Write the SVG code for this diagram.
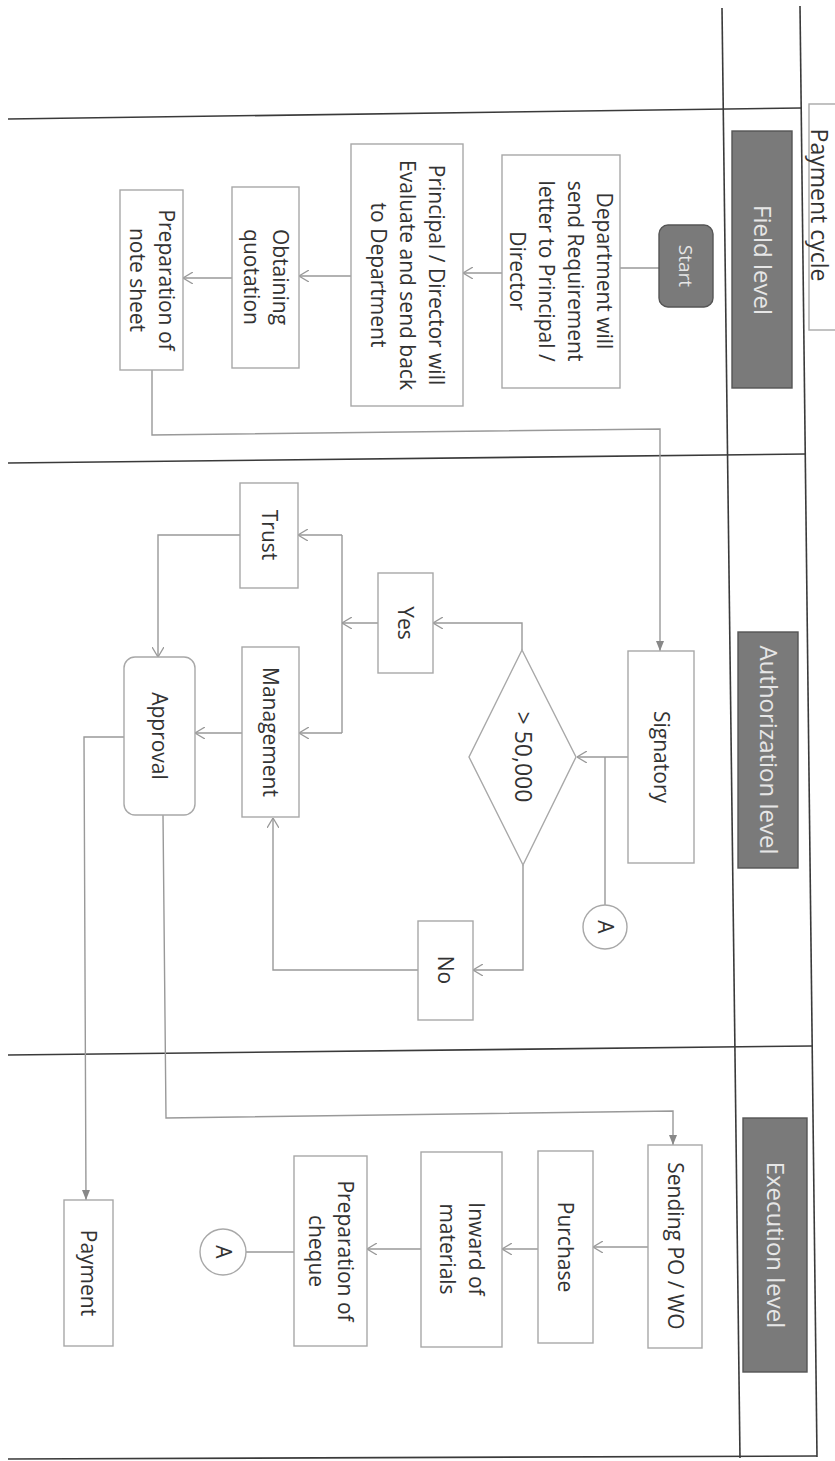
<svg xmlns="http://www.w3.org/2000/svg" width="835" height="1461" viewBox="0 0 835 1461">
<defs>
<style>
.bg{fill:#ffffff}
.frame{stroke:#3a3a3a;stroke-width:1.6;fill:none}
.box{fill:#ffffff;stroke:#a8a8a8;stroke-width:1.4}
.lane{fill:#7a7a7a;stroke:#555555;stroke-width:1.4}
.start{fill:#7a7a7a;stroke:#555555;stroke-width:1.4}
.t{font-family:"Open Sans","Noto Sans",sans-serif;font-size:21px;fill:#333333;text-anchor:middle}
.lt{font-family:"Open Sans","Noto Sans",sans-serif;font-size:24px;fill:#e6e6e6;text-anchor:middle}
.st{font-family:"Open Sans","Noto Sans",sans-serif;font-size:19px;fill:#e6e6e6;text-anchor:middle}
.pc{font-family:"Open Sans","Noto Sans",sans-serif;font-size:23px;fill:#333333;text-anchor:middle}
.c{fill:none;stroke:#999999;stroke-width:1.4}
.oa{marker-end:url(#oa)}
.fa{marker-end:url(#fa)}
</style>
<marker id="oa" viewBox="0 0 10 12" refX="10" refY="6" markerWidth="10" markerHeight="12" markerUnits="userSpaceOnUse" orient="auto">
<path d="M0,0 L10,6 L0,12" fill="none" stroke="#999999" stroke-width="1.3"/>
</marker>
<marker id="fa" viewBox="0 0 10 8" refX="10" refY="4" markerWidth="10" markerHeight="8" markerUnits="userSpaceOnUse" orient="auto">
<path d="M0,0 L10,4 L0,8 Z" fill="#888888"/>
</marker>
</defs>
<rect class="bg" x="0" y="0" width="835" height="1461"/>

<g id="frame">
<line class="frame" x1="722" y1="8" x2="740" y2="1458"/>
<line class="frame" x1="800" y1="6" x2="817" y2="1457"/>
<line class="frame" x1="8" y1="119" x2="801" y2="108"/>
<line class="frame" x1="8" y1="463" x2="806" y2="454"/>
<line class="frame" x1="8" y1="1055" x2="812" y2="1046"/>
<line class="frame" x1="8" y1="1459" x2="817" y2="1456"/>
</g>

<g id="title">
<rect class="box" x="809" y="104" width="40" height="226"/>
<text class="pc" transform="translate(819,205) rotate(90)"><tspan x="0" y="8">Payment cycle</tspan></text>
</g>

<g id="lane-field">
<rect class="lane" x="732" y="131" width="60" height="257"/>
<text class="lt" transform="translate(762,260) rotate(90)"><tspan x="0" y="8.5">Field level</tspan></text>
</g>
<g id="lane-auth">
<rect class="lane" x="738" y="632" width="60" height="236"/>
<text class="lt" transform="translate(768,750) rotate(90)"><tspan x="0" y="8.5">Authorization level</tspan></text>
</g>
<g id="lane-exec">
<rect class="lane" x="743" y="1118" width="64" height="254"/>
<text class="lt" transform="translate(775,1245) rotate(90)"><tspan x="0" y="8.5">Execution level</tspan></text>
</g>

<g id="connectors">
<line class="c" x1="659" y1="268" x2="620" y2="268"/>
<line class="c oa" x1="502" y1="273" x2="463" y2="273"/>
<line class="c oa" x1="351" y1="276" x2="299" y2="276"/>
<line class="c oa" x1="232" y1="278" x2="183" y2="278"/>
<polyline class="c fa" points="152,370 152,435 660,429 660,651"/>
<line class="c oa" x1="628" y1="757" x2="577" y2="757"/>
<polyline class="c" points="605,757 605,905"/>
<polyline class="c oa" points="522,650 522,623 433,623"/>
<line class="c oa" x1="378" y1="623" x2="342" y2="623"/>
<line class="c" x1="342" y1="535" x2="342" y2="733"/>
<line class="c oa" x1="342" y1="535" x2="298" y2="535"/>
<line class="c oa" x1="342" y1="733" x2="299" y2="733"/>
<polyline class="c oa" points="240,535 158,535 158,657"/>
<line class="c oa" x1="242" y1="733" x2="195" y2="733"/>
<polyline class="c oa" points="523,865 523,970 473,970"/>
<polyline class="c oa" points="418,970 273,970 273,818"/>
<polyline class="c fa" points="124,737 84,737 86,1200"/>
<polyline class="c fa" points="163,815 166,1118 673,1111 673,1145"/>
<line class="c oa" x1="648" y1="1247" x2="593" y2="1247"/>
<line class="c oa" x1="538" y1="1249" x2="502" y2="1249"/>
<line class="c oa" x1="421" y1="1249" x2="367" y2="1249"/>
<line class="c" x1="294" y1="1252" x2="246" y2="1252"/>
</g>

<g id="start">
<rect class="start" x="659" y="225" width="54" height="82" rx="9"/>
<text class="st" transform="translate(686,266) rotate(90)"><tspan x="0" y="7">Start</tspan></text>
</g>
<g id="dept">
<rect class="box" x="502" y="155" width="118" height="233"/>
<text class="t" transform="translate(561,271) rotate(90)"><tspan x="0" y="-36">Department will</tspan><tspan x="0" y="-7">send Requirement</tspan><tspan x="0" y="22">letter to Principal /</tspan><tspan x="0" y="51">Director</tspan></text>
</g>
<g id="principal">
<rect class="box" x="351" y="144" width="112" height="262"/>
<text class="t" transform="translate(407,275) rotate(90)"><tspan x="0" y="-21.5">Principal / Director will</tspan><tspan x="0" y="7.5">Evaluate and send back</tspan><tspan x="0" y="36.5">to Department</tspan></text>
</g>
<g id="quotation">
<rect class="box" x="232" y="187" width="67" height="181"/>
<text class="t" transform="translate(265.5,277) rotate(90)"><tspan x="0" y="-7">Obtaining</tspan><tspan x="0" y="22">quotation</tspan></text>
</g>
<g id="notesheet">
<rect class="box" x="120" y="190" width="63" height="180"/>
<text class="t" transform="translate(151.5,280) rotate(90)"><tspan x="0" y="-7">Preparation of</tspan><tspan x="0" y="22">note sheet</tspan></text>
</g>
<g id="signatory">
<rect class="box" x="628" y="651" width="66" height="212"/>
<text class="t" transform="translate(661,757) rotate(90)"><tspan x="0" y="7.5">Signatory</tspan></text>
</g>
<g id="decision">
<polygon class="box" points="522,650 576,757 523,865 469,757"/>
<text class="t" style="font-size:23px" transform="translate(523,757) rotate(90)"><tspan x="0" y="8">&gt; 50,000</tspan></text>
</g>
<g id="connA1">
<circle class="box" cx="605" cy="927" r="22"/>
<text class="t" transform="translate(605,927) rotate(90)"><tspan x="0" y="7.5">A</tspan></text>
</g>
<g id="yes">
<rect class="box" x="378" y="573" width="55" height="100"/>
<text class="t" transform="translate(405.5,623) rotate(90)"><tspan x="0" y="7.5">Yes</tspan></text>
</g>
<g id="trust">
<rect class="box" x="240" y="483" width="58" height="105"/>
<text class="t" transform="translate(269,535) rotate(90)"><tspan x="0" y="7.5">Trust</tspan></text>
</g>
<g id="management">
<rect class="box" x="242" y="647" width="57" height="170"/>
<text class="t" transform="translate(270.5,732) rotate(90)"><tspan x="0" y="7.5">Management</tspan></text>
</g>
<g id="no">
<rect class="box" x="418" y="921" width="55" height="99"/>
<text class="t" transform="translate(445.5,970) rotate(90)"><tspan x="0" y="7.5">No</tspan></text>
</g>
<g id="approval">
<rect class="box" x="124" y="657" width="71" height="158" rx="11"/>
<text class="t" transform="translate(159.5,736) rotate(90)"><tspan x="0" y="7.5">Approval</tspan></text>
</g>
<g id="payment">
<rect class="box" x="64" y="1200" width="49" height="146"/>
<text class="t" transform="translate(88.5,1273) rotate(90)"><tspan x="0" y="7.5">Payment</tspan></text>
</g>
<g id="sendpo">
<rect class="box" x="648" y="1145" width="54" height="203"/>
<text class="t" transform="translate(675,1246) rotate(90)"><tspan x="0" y="7.5">Sending PO / WO</tspan></text>
</g>
<g id="purchase">
<rect class="box" x="538" y="1151" width="55" height="192"/>
<text class="t" transform="translate(565.5,1247) rotate(90)"><tspan x="0" y="7.5">Purchase</tspan></text>
</g>
<g id="inward">
<rect class="box" x="421" y="1152" width="81" height="195"/>
<text class="t" transform="translate(461.5,1249) rotate(90)"><tspan x="0" y="-7">Inward of</tspan><tspan x="0" y="22">materials</tspan></text>
</g>
<g id="cheque">
<rect class="box" x="294" y="1156" width="73" height="190"/>
<text class="t" transform="translate(330.5,1251) rotate(90)"><tspan x="0" y="-7">Preparation of</tspan><tspan x="0" y="22">cheque</tspan></text>
</g>
<g id="connA2">
<circle class="box" cx="223" cy="1252" r="23"/>
<text class="t" transform="translate(223,1252) rotate(90)"><tspan x="0" y="7.5">A</tspan></text>
</g>
</svg>
